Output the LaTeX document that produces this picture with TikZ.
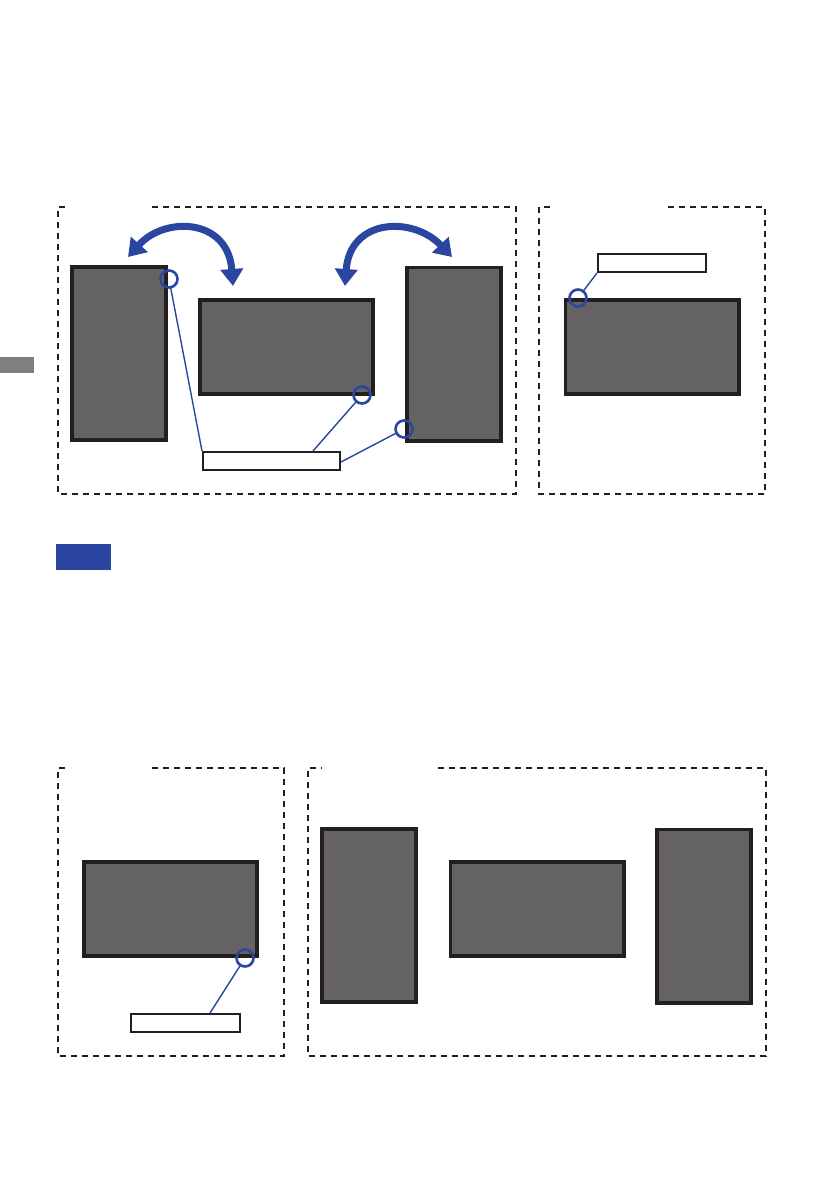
\documentclass[tikz,border=0pt]{standalone}
\usetikzlibrary{arrows.meta,calc}
\definecolor{scrfill}{HTML}{656263}
\definecolor{scrline}{HTML}{231F20}
\definecolor{blu}{HTML}{2A46A0}
\definecolor{tabgray}{HTML}{7F7F7F}
\tikzset{
  screen/.style={draw=scrline,fill=scrfill,line width=3.6pt,inner sep=0pt,outer sep=0pt},
  portrait/.style={screen,minimum width=94.4pt,minimum height=173.4pt},
  landscape/.style={screen,minimum width=173.4pt,minimum height=94.4pt},
  ring/.style={circle,draw=blu,line width=2.6pt,minimum size=17pt,inner sep=0pt,outer sep=0pt},
  leader/.style={draw=blu,line width=1.4pt},
  lbox/.style={draw=scrline,fill=white,line width=2pt,inner sep=0pt,minimum height=18pt},
  frame/.style={draw=scrline,line width=1.5pt,dash pattern=on 6pt off 5pt},
  bigarrow/.style={draw=blu,line width=7pt,{Triangle[width=22pt,length=17pt]}-{Triangle[width=22pt,length=17pt]}},
}
\begin{document}
\begin{tikzpicture}[x=1pt,y=-1pt]
\useasboundingbox (0,0) rectangle (839,1191);
% side tab and note badge
\node[fill=tabgray,minimum width=34pt,minimum height=16pt,inner sep=0pt,anchor=north west] (tab) at (0,357) {};
\node[fill=blu,minimum width=55pt,minimum height=26pt,inner sep=0pt,anchor=north west] (note) at (56,544) {};

% frames
\draw[frame] (152,207) -- (516,207) -- (516,494) -- (58,494) -- (58,207) -- (66,207);
\draw[frame] (668,207) -- (765,207) -- (765,494) -- (539,494) -- (539,207) -- (553,207);
\draw[frame] (152,768) -- (284,768) -- (284,1056) -- (58,1056) -- (58,768) -- (68,768);
\draw[frame] (438,768) -- (766,768) -- (766,1056) -- (308,1056) -- (308,768) -- (322,768);

% frame 1
\node[portrait] (p1) at (119,353.5) {};
\node[landscape] (l1) at (286.5,347) {};
\node[portrait] (p2) at (454,354) {};
\draw[bigarrow] (128,257) .. controls (165,216) and (228,218) .. (233,286);
\draw[bigarrow] (345,286) .. controls (350,218) and (413,216) .. (452,257);
\node[lbox,minimum width=137pt] (lb1) at (271.5,461) {};
\node[ring] (c1) at (169,279) {};
\node[ring] (c2) at (362,395) {};
\node[ring] (c3) at (404,429) {};
\draw[leader] (c1) -- (lb1.north west);
\draw[leader] (c2) -- ([xshift=41.5pt]lb1.north);
\draw[leader] (c3) -- ([yshift=-1pt]lb1.east);

% frame 2
\node[landscape] (l2) at (652,347) {};
\node[lbox,minimum width=108pt] (lb2) at (652,263) {};
\node[ring] (c4) at (578,298) {};
\draw[leader] (c4) -- (lb2.south west);

% frame 3
\node[landscape] (l3) at (170.5,909) {};
\node[lbox,minimum width=109pt] (lb3) at (185.5,1023) {};
\node[ring] (c5) at (245,958) {};
\draw[leader] (c5) -- ([xshift=24.5pt]lb3.north);

% frame 4
\node[portrait] (p3) at (369,915.5) {};
\node[landscape] (l4) at (537,909) {};
\node[portrait] (p4) at (704,916) {};
\end{tikzpicture}
\end{document}
